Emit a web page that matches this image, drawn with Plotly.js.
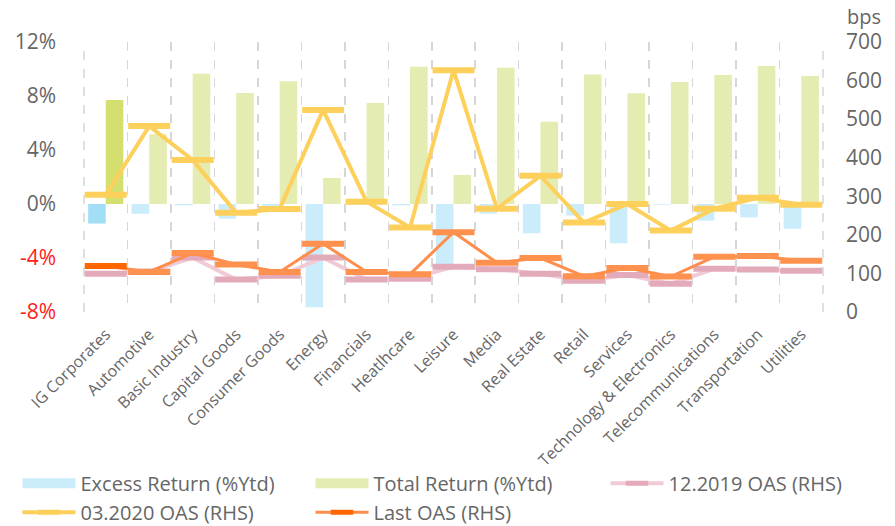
<!DOCTYPE html>
<html>
<head>
<meta charset="utf-8">
<script src="https://cdn.plot.ly/plotly-3.0.1.min.js"></script>
<style>html,body{margin:0;padding:0;background:#fff;}#chart{width:895px;height:526px;}</style>
</head>
<body>
<div id="chart"></div>
<script>
var categories = ['IG Corporates','Automotive','Basic Industry','Capital Goods','Consumer Goods','Energy','Financials','Heatlhcare','Leisure','Media','Real Estate','Retail','Services','Technology & Electronics','Telecommunications','Transportation','Utilities'];
var excessReturn = [-1.45,-0.72,-0.1,-1.09,-0.35,-7.65,-0.05,-0.1,-4.64,-0.72,-2.17,-0.86,-2.91,-0.05,-1.23,-0.99,-1.83];
var totalReturn = [7.7,5.16,9.65,8.22,9.1,1.93,7.48,10.17,2.15,10.1,6.1,9.6,8.2,9.04,9.56,10.22,9.48];
var oas1219 = [99,105,141,84,94,141,84,86,117,111,99,81,96,73,112,110,107];
var oas0320 = [304,482,394,257,267,524,286,219,627,268,353,232,280,211,268,296,278];
var oasLast = [119,104,153,123,104,177,104,98,207,128,140,93,114,92,143,145,133];
var leftTickVals = [-8,-4,0,4,8,12];
var leftTickText = ['<span style="color:#ff2020">-8%</span>','<span style="color:#ff2020">-4%</span>','0%','4%','8%','12%'];
var rightTickVals = [0,100,200,300,400,500,600,700];

function perPoint(first, rest){ return categories.map(function(c,i){ return i===0 ? first : rest; }); }

var font = 'Open Sans, Lato, sans-serif';
var grey = '#666666';
var blue = '#cbecfa', green = '#e5ecb1';

var traces = [
  {type:'bar', name:'Excess Return (%Ytd)', x:categories, y:excessReturn, yaxis:'y', legendgroup:'excess', showlegend:false,
   marker:{color:perPoint('#a2dff7', blue)}, hoverinfo:'skip'},
  {type:'bar', name:'Total Return (%Ytd)', x:categories, y:totalReturn, yaxis:'y', legendgroup:'total', showlegend:false,
   marker:{color:perPoint('#d4df6f', green)}, hoverinfo:'skip'},
  // legend keys for the two bar series (wide rectangles as in the reference)
  {type:'scatter', mode:'lines', name:'Excess Return (%Ytd)', x:[null], y:[null], yaxis:'y', legendgroup:'excess',
   legend:'legend', line:{color:blue, width:15}, hoverinfo:'skip'},
  {type:'scatter', mode:'lines', name:'Total Return (%Ytd)', x:[null], y:[null], yaxis:'y', legendgroup:'total',
   legend:'legend2', line:{color:green, width:15}, hoverinfo:'skip'},
  {type:'scatter', mode:'lines+markers', name:'12.2019 OAS (RHS)', x:categories, y:oas1219, yaxis:'y2', legend:'legend3',
   line:{color:'#f0cad5', width:4},
   marker:{symbol:'line-ew-open', size:30, color:'#e3abba', line:{color:'#e3abba', width:6}}},
  {type:'scatter', mode:'lines+markers', name:'03.2020 OAS (RHS)', x:categories, y:oas0320, yaxis:'y2', legend:'legend',
   line:{color:'#fdd05c', width:4},
   marker:{symbol:'line-ew-open', size:30, color:'#fdd05c', line:{color:'#fdd05c', width:6}}},
  {type:'scatter', mode:'lines+markers', name:'Last OAS (RHS)', x:categories, y:oasLast, yaxis:'y2', legend:'legend2',
   line:{color:'#ff8d4c', width:3},
   marker:{symbol:'line-ew-open', size:30, color:perPoint('#ff6600','#ff914f'), line:{color:perPoint('#ff6600','#ff914f'), width:6}}}
];

function legendAt(x){
  return {orientation:'v', x:x, xanchor:'left', y:-0.562, yanchor:'top', bgcolor:'rgba(0,0,0,0)',
          font:{size:20, color:grey, family:font}, itemwidth:53, tracegroupgap:0, traceorder:'normal'};
}

var gridEdge = {type:'line', xref:'paper', yref:'paper', y0:0, y1:1, line:{color:'#d6d6d6', width:1.5, dash:'dash'}, layer:'below'};

var layout = {
  width:895, height:526,
  margin:{l:84, r:72, t:42, b:214, autoexpand:false},
  paper_bgcolor:'#ffffff', plot_bgcolor:'#ffffff',
  font:{family:font, color:grey},
  barmode:'group', bargap:0.19, bargroupgap:0,
  showlegend:true,
  legend:legendAt(-0.09),
  legend2:legendAt(0.3065),
  legend3:legendAt(0.7057),
  xaxis:{type:'category', tickangle:-45, tickfont:{size:16, color:grey}, ticks:'', automargin:false,
         showgrid:true, tickson:'boundaries', griddash:'dash', gridcolor:'#d6d6d6', gridwidth:1.5,
         showline:false, zeroline:false, ticklabelstandoff:9, range:[-0.5,16.5]},
  yaxis:{range:[-8,12], tickvals:leftTickVals, ticktext:leftTickText, tickfont:{size:21, color:grey}, automargin:false,
         showgrid:false, zeroline:false, showline:false, ticks:'', ticklabelstandoff:27},
  yaxis2:{range:[0,700], overlaying:'y', side:'right', tickvals:rightTickVals, tickfont:{size:21, color:grey}, automargin:false,
          showgrid:false, zeroline:false, showline:false, ticks:'', ticklabelstandoff:22},
  shapes:[Object.assign({x0:0, x1:0}, gridEdge), Object.assign({x0:1, x1:1}, gridEdge)],
  annotations:[{text:'bps', xref:'paper', yref:'paper', x:1.03, y:1.0, xanchor:'left', yanchor:'bottom',
                yshift:10, showarrow:false, font:{size:20, color:grey, family:font}}]
};

Plotly.newPlot('chart', traces, layout, {displayModeBar:false, staticPlot:true});
</script>
</body>
</html>
